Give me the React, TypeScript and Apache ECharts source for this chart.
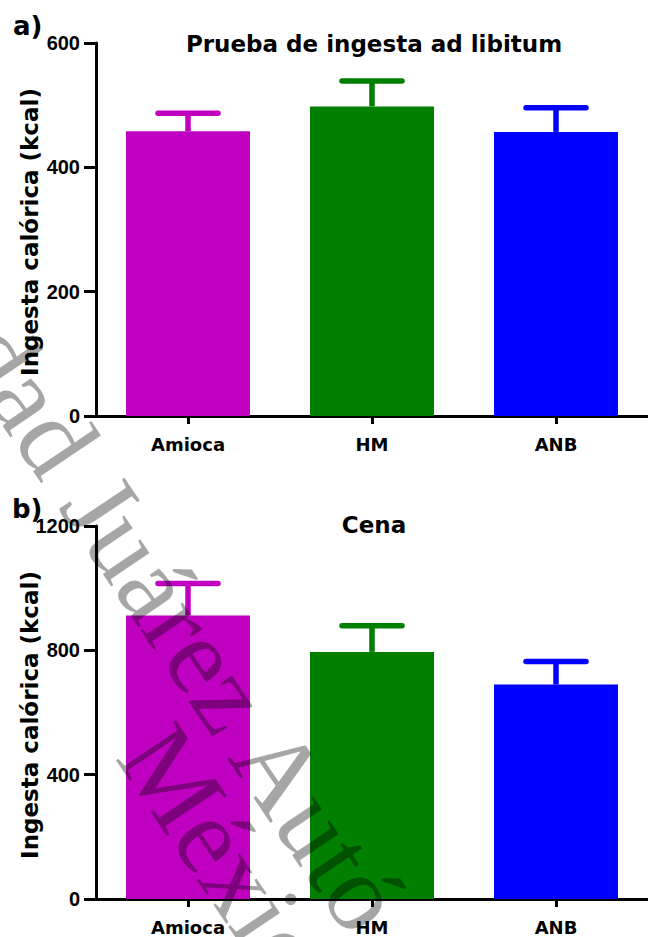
import React, { useEffect, useRef } from "react";
import * as echarts from "echarts";

const categories = ["Amioca", "HM", "ANB"];
const adLibMean = [458, 498, 457];
const adLibSem = [29, 41, 39];
const cenaMean = [912, 795, 690];
const cenaSem = [103, 84, 74];
const adLibAxis = { max: 600, interval: 200 };
const cenaAxis = { max: 1200, interval: 400 };
const titles = ["Prueba de ingesta ad libitum", "Cena"];
const panelLabels = ["a)", "b)"];
const yName = "Ingesta calórica (kcal)";
const watermark1 = "dad Juárez Autó";
const watermark2 = "México";

const barColors = ["#C000C0", "#007F00", "#0000FF"];
const NUM_FONT = '"Liberation Sans", Arial, sans-serif';
const TXT_FONT = '"DejaVu Sans", sans-serif';

function errRender(params: any, api: any) {
  const idx = api.value(0);
  const base = api.coord([idx, api.value(1)]);
  const top = api.coord([idx, api.value(2)]);
  const color = barColors[idx];
  const half = 30;
  return {
    type: "group",
    children: [
      {
        type: "line",
        shape: { x1: base[0], y1: base[1], x2: base[0], y2: top[1] },
        style: { stroke: color, lineWidth: 5.5 },
      },
      {
        type: "line",
        shape: { x1: base[0] - half, y1: top[1], x2: base[0] + half, y2: top[1] },
        style: { stroke: color, lineWidth: 5.5, lineCap: "round" },
      },
    ],
  };
}

export default function App() {
  const ref = useRef<HTMLDivElement>(null);
  useEffect(() => {
    document.body.style.margin = "0";
    const chart = echarts.init(ref.current!, null, { renderer: "svg" });
    const grids = [
      { left: 96, top: 43, width: 557, height: 373 },
      { left: 96, top: 526, width: 557, height: 373 },
    ];
    const axisCfg = [adLibAxis, cenaAxis];
    const means = [adLibMean, cenaMean];
    const sems = [adLibSem, cenaSem];
    const xAxis = grids.map((_, i) => ({
      type: "category",
      gridIndex: i,
      data: categories,
      axisLine: { show: true, lineStyle: { color: "#000", width: 3 } },
      axisTick: { show: true, alignWithLabel: true, length: 8, lineStyle: { color: "#000", width: 3 } },
      axisLabel: { color: "#000", fontFamily: TXT_FONT, fontWeight: "bold", fontSize: 18, margin: 19 },
      splitLine: { show: false },
    }));
    const yAxis = grids.map((_, i) => ({
      type: "value",
      gridIndex: i,
      min: 0,
      max: axisCfg[i].max,
      interval: axisCfg[i].interval,
      axisLine: { show: true, lineStyle: { color: "#000", width: 3 } },
      axisTick: { show: true, length: 12, lineStyle: { color: "#000", width: 3 } },
      axisLabel: {
        color: "#000",
        fontFamily: NUM_FONT,
        fontWeight: "bold",
        fontSize: 20,
        margin: 16,
        formatter: (v: number) => String(v),
      },
      splitLine: { show: false },
    }));
    const series: any[] = [];
    grids.forEach((_, i) => {
      series.push({
        type: "bar",
        xAxisIndex: i,
        yAxisIndex: i,
        barWidth: 124,
        data: means[i].map((v, j) => ({ value: v, itemStyle: { color: barColors[j] } })),
      });
      series.push({
        type: "custom",
        xAxisIndex: i,
        yAxisIndex: i,
        renderItem: errRender,
        data: means[i].map((v, j) => [j, v, v + sems[i][j]]),
        z: 3,
      });
    });
    const rot = (-56 * Math.PI) / 180;
    const wmStyle = { fill: "rgba(0,0,0,0.35)", font: '110px "Liberation Serif", serif' };
    const graphic: any[] = [
      { type: "text", x: 374, y: 44, style: { text: titles[0], font: `bold 23px ${TXT_FONT}`, fill: "#000", textAlign: "center", textVerticalAlign: "middle", align: "center", verticalAlign: "middle" } },
      { type: "text", x: 374, y: 525, style: { text: titles[1], font: `bold 23px ${TXT_FONT}`, fill: "#000", textAlign: "center", textVerticalAlign: "middle", align: "center", verticalAlign: "middle" } },
      { type: "text", x: 13, y: 26, style: { text: panelLabels[0], font: `bold 26px ${TXT_FONT}`, fill: "#000", textAlign: "left", textVerticalAlign: "middle", align: "left", verticalAlign: "middle" } },
      { type: "text", x: 12, y: 509, style: { text: panelLabels[1], font: `bold 26px ${TXT_FONT}`, fill: "#000", textAlign: "left", textVerticalAlign: "middle", align: "left", verticalAlign: "middle" } },
      { type: "text", x: 30, y: 232, rotation: Math.PI / 2, style: { text: yName, font: `bold 23px ${TXT_FONT}`, fill: "#000", textAlign: "center", textVerticalAlign: "middle", align: "center", verticalAlign: "middle" } },
      { type: "text", x: 30, y: 715, rotation: Math.PI / 2, style: { text: yName, font: `bold 23px ${TXT_FONT}`, fill: "#000", textAlign: "center", textVerticalAlign: "middle", align: "center", verticalAlign: "middle" } },
      { type: "text", x: -16, y: 332, rotation: rot, z: 100, style: { text: watermark1, ...wmStyle, textAlign: "left", textVerticalAlign: "middle", align: "left", verticalAlign: "middle" } },
      { type: "text", x: 145, y: 737, rotation: rot, z: 100, style: { text: watermark2, ...wmStyle, textAlign: "left", textVerticalAlign: "middle", align: "left", verticalAlign: "middle" } },
    ];
    chart.setOption({
      animation: false,
      backgroundColor: "#fff",
      grid: grids,
      xAxis,
      yAxis,
      series,
      graphic,
    });
    return () => chart.dispose();
  }, []);
  return <div ref={ref} style={{ width: 648, height: 937 }} />;
}
